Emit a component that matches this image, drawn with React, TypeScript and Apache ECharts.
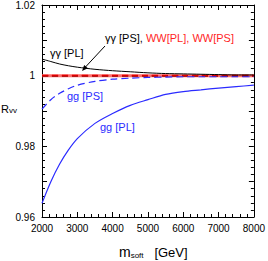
import React, { useEffect, useRef } from "react";
import * as echarts from "echarts";

const mSoft = [2000, 2250, 2500, 2750, 3000, 3500, 4000, 4500, 5000, 5500, 6000, 6500, 7000, 7500, 8000];
const aaPL = [1.0047, 1.004, 1.0033, 1.0028, 1.0024, 1.0018, 1.0014, 1.0011, 1.0008, 1.0006, 1.0005, 1.0004, 1.0003, 1.0002, 1.0002];
const aaPS = [1.0, 1.0, 1.0, 1.0, 1.0, 1.0, 1.0, 1.0, 1.0, 1.0, 1.0, 1.0, 1.0, 1.0, 1.0];
const wwPL = [1.0, 1.0, 1.0, 1.0, 1.0, 1.0, 1.0, 1.0, 1.0, 1.0, 1.0, 1.0, 1.0, 1.0, 1.0];
const wwPS = [1.0, 1.0, 1.0, 1.0, 1.0, 1.0, 1.0, 1.0, 1.0, 1.0, 1.0, 1.0, 1.0, 1.0, 1.0];
const ggPS = [0.9905, 0.9932, 0.995, 0.9963, 0.9973, 0.9984, 0.999, 0.9993, 0.9995, 0.9996, 0.9997, 0.9997, 0.9997, 0.9997, 0.9997];
const ggPL = [0.9639, 0.97, 0.975, 0.979, 0.9822, 0.9865, 0.9893, 0.9916, 0.9932, 0.9947, 0.9955, 0.996, 0.9965, 0.9969, 0.9973];

const yLabels = ["0.96", "0.98", "1", "1.02"];
const xLabels = ["2000", "3000", "4000", "5000", "6000", "7000", "8000"];

const FONT = "'Liberation Sans', Arial, Helvetica, sans-serif";
const BLUE = "#2b2bff";
const RED = "#ff1f1f";

function pairs(vals: number[]) {
  return mSoft.map((m, i) => [m, vals[i]]);
}

export default function App() {
  const ref = useRef<HTMLDivElement>(null);
  useEffect(() => {
    if (!ref.current) return;
    const chart = echarts.init(ref.current, undefined, { renderer: "svg" });
    const axisCommon = {
      axisLine: { show: true, onZero: false, lineStyle: { color: "#000", width: 1 } },
      axisTick: { show: true, inside: true, length: 5, lineStyle: { color: "#000" } },
      minorTick: { show: true, splitNumber: 5, length: 3, lineStyle: { color: "#000" } },
      splitLine: { show: false },
      minorSplitLine: { show: false },
    };
    const line = (name: string, vals: number[], color: string, width: number, type: any, z: number, opacity = 1) => ({
      name,
      type: "line",
      data: pairs(vals),
      smooth: 0.3,
      showSymbol: false,
      symbol: "none",
      z,
      lineStyle: { color, width, type, opacity },
    });
    chart.setOption({
      animation: false,
      backgroundColor: "#fff",
      grid: { left: 42, right: 12, top: 4, bottom: 44, containLabel: false },
      xAxis: [
        {
          type: "value",
          position: "bottom",
          min: 2000,
          max: 8000,
          interval: 1000,
          ...axisCommon,
          axisLabel: {
            margin: 6,
            fontSize: 10,
            color: "#000",
            fontFamily: FONT,
            formatter: (v: number) => {
              const s = String(Math.round(v));
              return xLabels.includes(s) ? s : "";
            },
          },
        },
        {
          type: "value",
          position: "top",
          min: 2000,
          max: 8000,
          interval: 1000,
          ...axisCommon,
          axisLabel: { show: false },
        },
      ],
      yAxis: [
        {
          type: "value",
          position: "left",
          min: 0.96,
          max: 1.02,
          interval: 0.01,
          ...axisCommon,
          axisLabel: {
            margin: 7,
            fontSize: 10,
            color: "#000",
            fontFamily: FONT,
            formatter: (v: number) => {
              const s = String(Math.round(v * 100) / 100);
              return yLabels.includes(s) ? s : "";
            },
          },
        },
        {
          type: "value",
          position: "right",
          min: 0.96,
          max: 1.02,
          interval: 0.01,
          ...axisCommon,
          axisLabel: { show: false },
        },
      ],
      series: [
        line("WW [PL]", wwPL, "#ff6a6a", 3, "solid", 1),
        line("γγ [PS]", aaPS, "#000", 1.5, [6, 4], 2),
        line("WW [PS]", wwPS, "#e00000", 1.8, [6, 4], 3),
        line("γγ [PL]", aaPL, "#000", 1, "solid", 4),
        line("gg [PS]", ggPS, BLUE, 1.2, [7, 4], 5),
        line("gg [PL]", ggPL, BLUE, 1.2, "solid", 6),
      ],
      graphic: [
        {
          type: "text",
          left: 50,
          top: 47,
          style: { text: "γγ [PL]", fontSize: 11, fontFamily: FONT, fill: "#000" },
        },
        {
          type: "text",
          left: 105,
          top: 32,
          style: {
            text: "{k|γγ [PS], }{r|WW[PL], WW[PS]}",
            fontSize: 11,
            fontFamily: FONT,
            rich: {
              k: { fontSize: 11, fontFamily: FONT, fill: "#000", color: "#000" },
              r: { fontSize: 11, fontFamily: FONT, fill: RED, color: RED },
            },
          },
        },
        {
          type: "text",
          left: 67,
          top: 90,
          style: { text: "gg [PS]", fontSize: 11, fontFamily: FONT, fill: BLUE },
        },
        {
          type: "text",
          left: 100,
          top: 121,
          style: { text: "gg [PL]", fontSize: 11, fontFamily: FONT, fill: BLUE },
        },
        {
          type: "line",
          shape: { x1: 105, y1: 46, x2: 85, y2: 67.5 },
          style: { stroke: "#000", lineWidth: 1 },
          z: 100,
        },
        {
          type: "polygon",
          shape: { points: [[82, 71], [87.9, 68.3], [84.2, 64.9]] },
          style: { fill: "#000" },
          z: 100,
        },
        {
          type: "text",
          left: 1,
          top: 103,
          style: {
            text: "{a|R}{b|vv}",
            fontFamily: FONT,
            rich: {
              a: { fontSize: 11, fontFamily: FONT, fill: "#000", color: "#000", verticalAlign: "bottom" },
              b: { fontSize: 8, fontFamily: FONT, fill: "#000", color: "#000", verticalAlign: "bottom", padding: [0, 0, 0, 0] },
            },
          },
        },
        {
          type: "text",
          left: 119,
          top: 245,
          style: {
            text: "{a|m}{b|soft}{c|   [GeV]}",
            fontFamily: FONT,
            rich: {
              a: { fontSize: 14, fontFamily: FONT, fill: "#000", color: "#000", verticalAlign: "bottom" },
              b: { fontSize: 8, fontFamily: FONT, fill: "#000", color: "#000", verticalAlign: "bottom" },
              c: { fontSize: 13, fontFamily: FONT, fill: "#000", color: "#000", verticalAlign: "bottom" },
            },
          },
        },
      ],
    });
    return () => chart.dispose();
  }, []);
  return (
    <div
      ref={ref}
      style={{ position: "absolute", left: 0, top: 0, width: 268, height: 261 }}
    />
  );
}
